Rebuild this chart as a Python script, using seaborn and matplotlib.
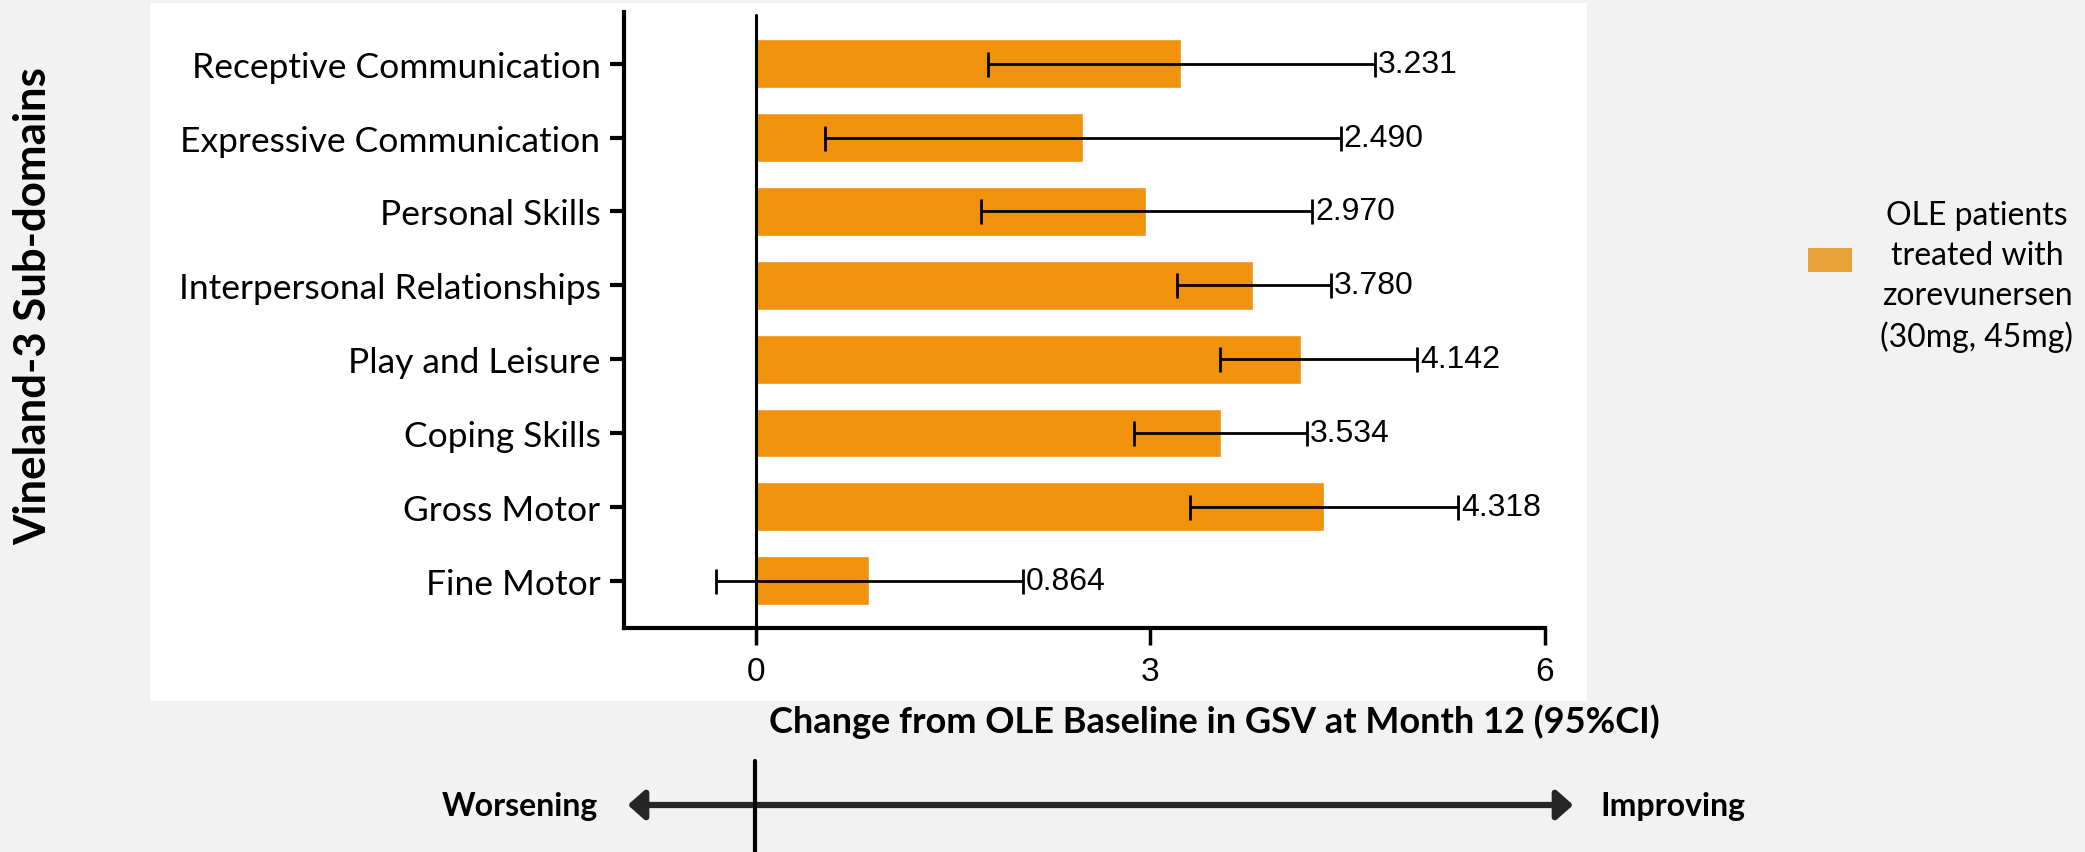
import pandas as pd
import seaborn as sns
import matplotlib.pyplot as plt
from matplotlib.patches import Rectangle, FancyArrowPatch

# Values
domains = ["Receptive Communication", "Expressive Communication", "Personal Skills",
           "Interpersonal Relationships", "Play and Leisure", "Coping Skills",
           "Gross Motor", "Fine Motor"]
means = [3.231, 2.490, 2.970, 3.780, 4.142, 3.534, 4.318, 0.864]
ci_low = [1.77, 0.53, 1.71, 3.20, 3.53, 2.88, 3.30, -0.30]
ci_high = [4.71, 4.45, 4.23, 4.37, 5.03, 4.19, 5.34, 2.03]
x_ticks = [0, 3, 6]
legend_label = "OLE patients\ntreated with\nzorevunersen\n(30mg, 45mg)"

df = pd.DataFrame({"domain": domains, "mean": means, "low": ci_low, "high": ci_high})

sns.set_theme(style="white")
plt.rcParams["font.family"] = ["Lato", "DejaVu Sans"]

W, H = 2085, 853
fig = plt.figure(figsize=(W / 100, H / 100), dpi=100, facecolor="#F2F2F2")

# white panel behind the chart
fig.patches.append(Rectangle((150 / W, 1 - 702 / H), (1587 - 150) / W, (702 - 4) / H,
                             transform=fig.transFigure, facecolor="white",
                             edgecolor="none", zorder=-5))

ax = fig.add_axes([624 / W, 1 - 629 / H, (1545 - 624) / W, (629 - 13) / H])
ax.set_facecolor("none")
ax.set_zorder(2)

sns.barplot(data=df, x="mean", y="domain", color="#F0920C", saturation=1,
            width=0.66, errorbar=None, ax=ax, zorder=2)

ypos = range(len(df))
ax.errorbar(df["mean"], ypos,
            xerr=[df["mean"] - df["low"], df["high"] - df["mean"]],
            fmt="none", ecolor="black", elinewidth=2, capsize=9, capthick=2, zorder=3)

for y, hi, m in zip(ypos, df["high"], df["mean"]):
    ax.annotate(f"{m:.3f}", (hi, y), xytext=(2, 0), textcoords="offset points",
                ha="left", va="center", fontsize=23, family="Liberation Sans",
                color="black", zorder=4)

ax.axvline(0, color="black", lw=2.2, ymax=0.995, zorder=4)

ax.set_xlim(-1, 6)
ax.set_ylim(7.64, -0.70)
ax.set_xticks(x_ticks)
ax.set_xticklabels([str(t) for t in x_ticks], family="Liberation Sans", fontsize=24)
ax.set_xlabel("")
ax.set_ylabel("")
ax.tick_params(axis="x", direction="out", length=12, width=2.5, pad=8, bottom=True,
               colors="black")
ax.tick_params(axis="y", direction="out", length=10, width=3, pad=7, left=True,
               labelsize=25.5, colors="black")

sns.despine(ax=ax)
for s in ["left", "bottom"]:
    ax.spines[s].set_linewidth(3)
    ax.spines[s].set_color("black")

# axis titles
fig.text(33 / W, 1 - 306 / H, "Vineland-3 Sub-domains", rotation=90, ha="center",
         va="center", fontsize=31.5, fontweight="bold", color="black")
fig.text(1214 / W, 1 - 722 / H, "Change from OLE Baseline in GSV at Month 12 (95%CI)",
         ha="center", va="center", fontsize=26, fontweight="bold", color="black")

# direction arrow
fig.patches.append(FancyArrowPatch((625 / W, 1 - 806 / H), (1576 / W, 1 - 806 / H),
                                   transform=fig.transFigure,
                                   arrowstyle="<|-|>,head_length=0.45,head_width=0.4",
                                   mutation_scale=22, lw=4.5, color="#262626"))
fig.add_artist(plt.Line2D([755 / W, 755 / W], [0, 1 - 762 / H], transform=fig.transFigure,
                          color="black", lw=3))
fig.text(598 / W, 1 - 807 / H, "Worsening", ha="right", va="center",
         fontsize=23, fontweight="bold", color="black")
fig.text(1600 / W, 1 - 807 / H, "Improving", ha="left", va="center",
         fontsize=23, fontweight="bold", color="black")

# legend
fig.patches.append(Rectangle((1808 / W, 1 - 273 / H), 44 / W, 24 / H,
                             transform=fig.transFigure, facecolor="#E8A23A",
                             edgecolor="none"))
fig.text(1977 / W, 1 - 277 / H, legend_label, ha="center", va="center",
         multialignment="center", fontsize=23, linespacing=1.4, color="black")

fig.savefig("out.png", dpi=100, facecolor=fig.get_facecolor())
